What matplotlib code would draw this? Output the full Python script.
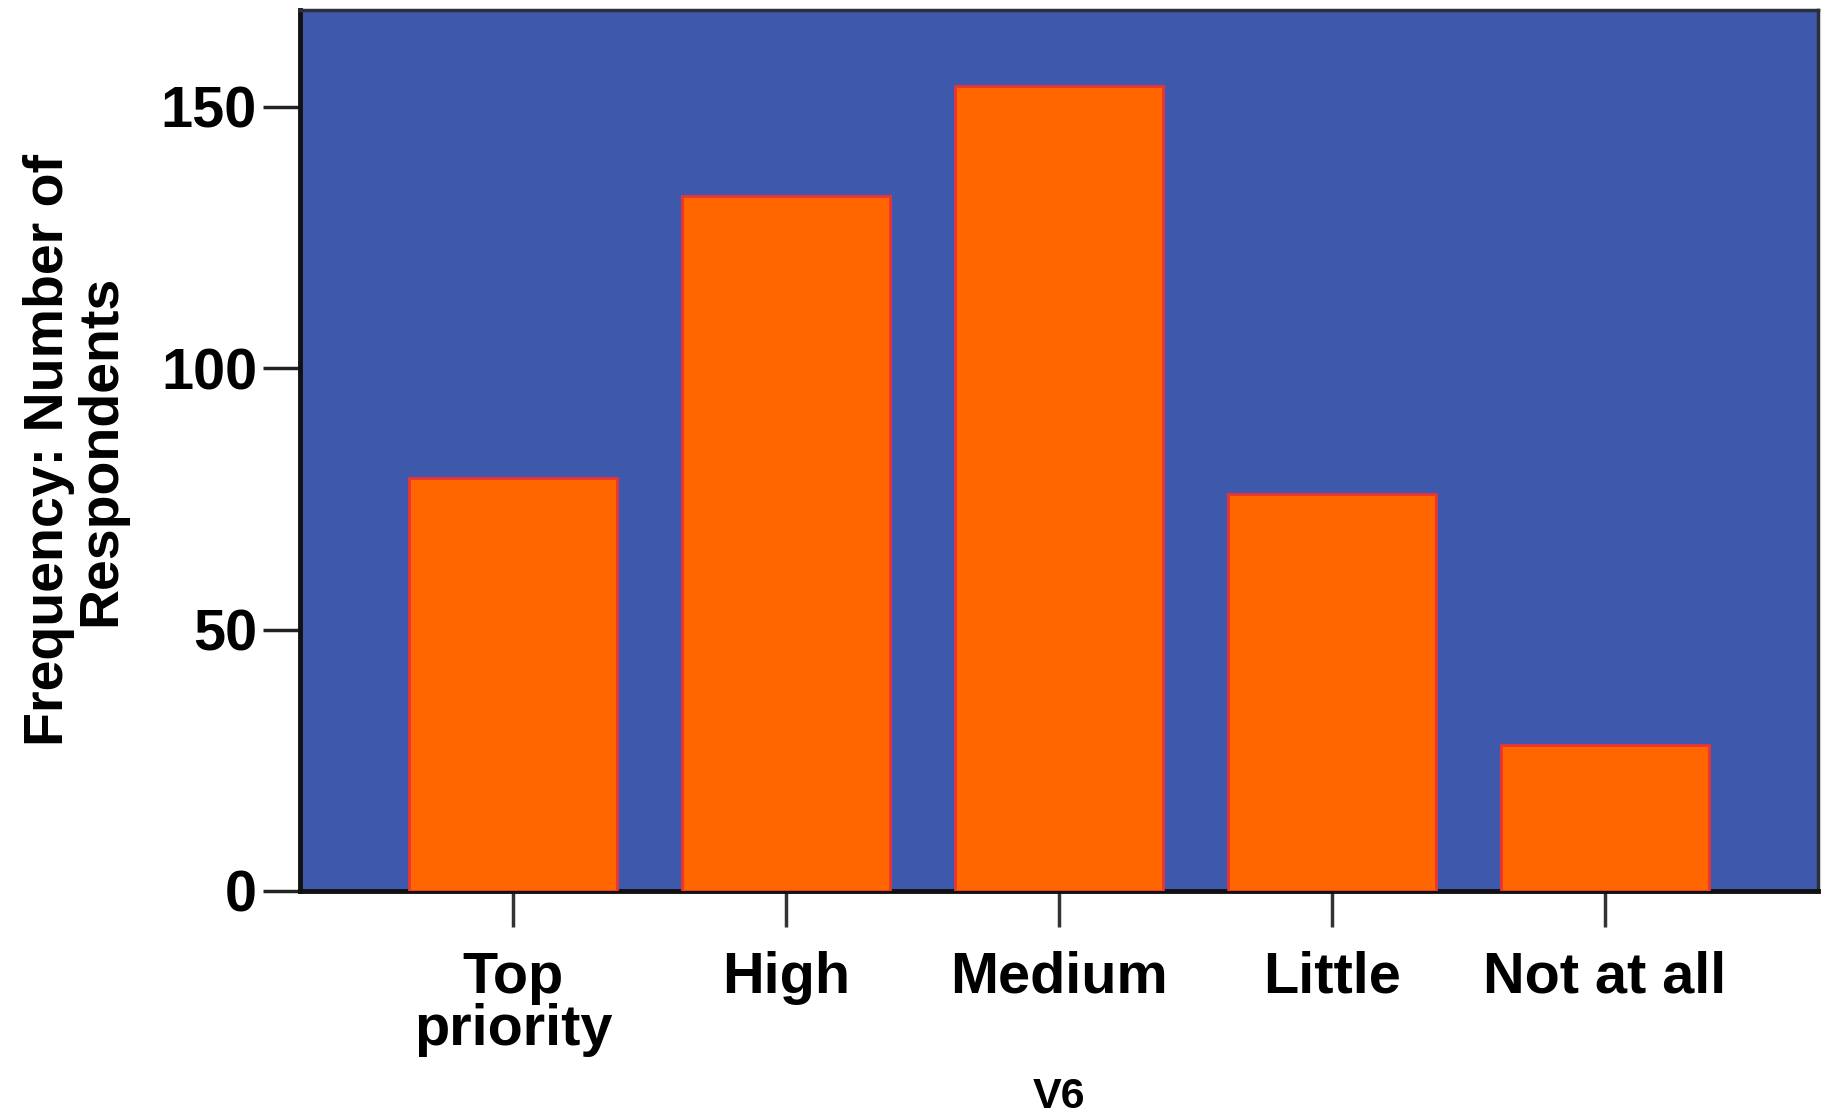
import matplotlib.pyplot as plt

categories = ["Top\npriority", "High", "Medium", "Little", "Not at all"]
counts = [79, 133, 154, 76, 28]
yticks = [0, 50, 100, 150]

plt.rcParams['font.family'] = ['Liberation Sans', 'DejaVu Sans']
plt.rcParams['font.weight'] = 'bold'

fig = plt.figure(figsize=(18.22, 11.2), dpi=100)
ax = fig.add_axes([0.1647, 0.2045, 0.8331, 0.7866])
ax.set_facecolor('#3E59AB')

x = range(len(categories))
ax.bar(x, counts, width=0.76, color='#FF6600', edgecolor='#EE3333', linewidth=2.0, zorder=3)

ax.set_xlim(-0.78, len(categories) - 1 + 0.78)
ax.set_ylim(0, 168.5)
ax.set_xticks(list(x))
ax.set_xticklabels(categories, fontsize=41.5, fontweight='bold', linespacing=0.97)
ax.set_yticks(yticks)
ax.set_yticklabels([str(v) for v in yticks], fontsize=41.5, fontweight='bold')

ax.tick_params(axis='x', direction='out', length=26, width=2.5, color='#333333', pad=17)
ax.tick_params(axis='y', direction='out', length=27, width=2.5, color='#222222', pad=4)

for side in ['left', 'bottom']:
    ax.spines[side].set_linewidth(3.5)
    ax.spines[side].set_color('#111111')
for side in ['top', 'right']:
    ax.spines[side].set_linewidth(2.5)
    ax.spines[side].set_color('#2A2F3A')

ax.set_ylabel("Frequency: Number of\nRespondents", fontsize=40, fontweight='bold',
              linespacing=1.0, labelpad=24)
ax.set_xlabel("V6", fontsize=31, fontweight='bold', labelpad=14)

fig.savefig('out.png', dpi=100)
